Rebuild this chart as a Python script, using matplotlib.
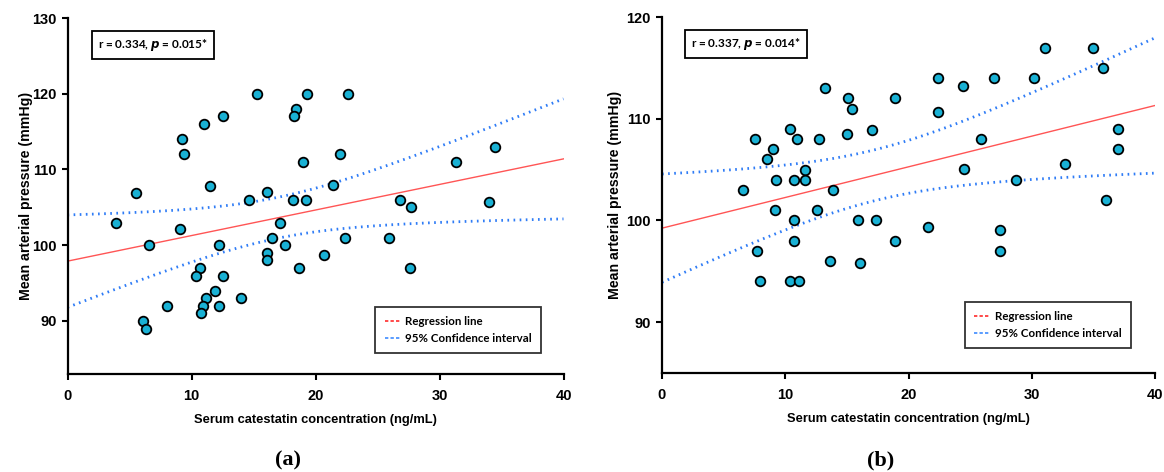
import numpy as np
import matplotlib
matplotlib.use("Agg")
import matplotlib.pyplot as plt
from matplotlib import font_manager
from matplotlib.lines import Line2D

# ---------------- data ----------------
xa = [3.94, 5.5, 9.26, 9.37, 11.0, 12.5, 11.5, 15.3, 19.3, 18.4, 18.3, 19.0, 14.6, 16.1,
      18.2, 19.2, 9.1, 17.1, 16.5, 22.6, 22.0, 34.5, 31.3, 21.4, 26.8, 27.7, 34.0, 22.4,
      25.95, 6.6, 12.2, 17.5, 16.1, 16.1, 18.7, 10.66, 10.4, 12.5, 11.9, 11.2, 14.0, 8.0,
      10.95, 12.2, 10.8, 6.1, 6.3, 20.7, 27.6]
ya = [103.0, 106.9, 114.0, 112.0, 116.0, 117.0, 107.8, 120.0, 120.0, 118.0, 117.0, 111.0,
      106.0, 107.0, 106.0, 106.0, 102.1, 103.0, 101.0, 120.0, 112.0, 113.0, 111.0, 108.0,
      106.0, 105.0, 105.7, 101.0, 101.0, 100.0, 100.0, 100.0, 99.0, 98.0, 97.0, 97.0, 96.0,
      96.0, 94.0, 93.0, 93.0, 92.0, 92.0, 92.0, 91.0, 90.0, 89.0, 98.7, 97.0]

xb = [13.2, 15.07, 15.44, 18.9, 10.35, 7.57, 10.97, 12.7, 15.04, 17.0, 8.97, 8.54, 11.6,
      9.27, 10.7, 11.6, 6.6, 13.9, 9.16, 12.55, 10.7, 15.9, 17.4, 10.7, 18.9, 31.1, 35.0,
      35.8, 22.4, 24.4, 26.9, 30.2, 22.4, 25.9, 37.0, 37.0, 32.7, 24.5, 28.7, 36.0, 21.6,
      27.4, 7.7, 13.6, 16.1, 7.94, 10.4, 11.1, 27.4]
yb = [113.0, 112.0, 111.0, 112.0, 109.0, 108.0, 108.0, 108.0, 108.5, 108.9, 107.0, 106.0,
      105.0, 104.0, 104.0, 104.0, 103.0, 103.0, 101.0, 101.0, 100.0, 100.0, 100.0, 98.0,
      98.0, 117.0, 117.0, 115.0, 114.0, 113.2, 114.0, 114.0, 110.7, 108.0, 109.0, 107.0,
      105.5, 105.1, 104.0, 102.0, 99.4, 99.05, 97.0, 96.0, 95.8, 94.0, 94.0, 94.0, 97.0]

# regression line and 95% CI limits read at x = 0 and x = 40, plus narrowest CI half-width
line_ends_a = [97.9, 111.4]
ci_upper_ends_a = [104.0, 119.25]
ci_lower_ends_a = [91.8, 103.4]
ci_min_half_a = 2.7

line_ends_b = [99.24, 111.3]
ci_upper_ends_b = [104.55, 117.9]
ci_lower_ends_b = [93.9, 104.6]
ci_min_half_b = 2.5

stats_a = "r = 0.334, $\\boldsymbol{p}$ = 0.015*"
stats_b = "r = 0.337, $\\boldsymbol{p}$ = 0.014*"
xlabel = "Serum catestatin concentration (ng/mL)"
ylabel = "Mean arterial pressure (mmHg)"
legend_labels = ["Regression line", "95% Confidence interval"]
panel_labels = ["(a)", "(b)"]
xticks = [0, 10, 20, 30, 40]
yticks_a = [90, 100, 110, 120, 130]
yticks_b = [90, 100, 110, 120]
X_END = 40.0

# ---------------- fonts ----------------
names = {f.name for f in font_manager.fontManager.ttflist}
SANS = "Liberation Sans" if "Liberation Sans" in names else "DejaVu Sans"
NARROW = "Liberation Sans Narrow" if "Liberation Sans Narrow" in names else SANS
SERIF = "Liberation Serif" if "Liberation Serif" in names else "DejaVu Serif"
CAL = "Lato" if "Lato" in names else SANS
plt.rcParams["mathtext.fontset"] = "custom"
plt.rcParams["mathtext.bf"] = f"{CAL}:bold:italic"

MARKER = "#19b1d4"
RED = "#ff5555"
BLUE = "#2f7cf6"


def reg_curves(line_ends, up_ends, lo_ends, hmin):
    """Regression line and hyperbolic CI band through the values read at x=0 and x=40."""
    b0 = line_ends[0]
    slope = (line_ends[1] - line_ends[0]) / X_END
    h0 = (up_ends[0] - lo_ends[0]) / 2.0
    h40 = (up_ends[1] - lo_ends[1]) / 2.0
    A = h0 ** 2 - hmin ** 2
    B = h40 ** 2 - hmin ** 2
    r = np.sqrt(A / B)
    xc = X_END * r / (1 + r)
    k = A / xc ** 2
    xs = np.linspace(0, X_END, 300)
    yh = b0 + slope * xs
    h = np.sqrt(hmin ** 2 + k * (xs - xc) ** 2)
    return xs, yh, yh - h, yh + h


fig = plt.figure(figsize=(11.64, 4.72), dpi=100)
ax_a = fig.add_axes([67.5 / 1164, 1 - 374 / 472, 496 / 1164, 356 / 472])
ax_b = fig.add_axes([662 / 1164, 1 - 373 / 472, 493 / 1164, 356 / 472])

panels = [
    (ax_a, xa, ya, (83, 130), yticks_a, stats_a, (0.955, 0.058), 0.172,
     (line_ends_a, ci_upper_ends_a, ci_lower_ends_a, ci_min_half_a)),
    (ax_b, xb, yb, (85, 120), yticks_b, stats_b, (0.951, 0.070), 0.170,
     (line_ends_b, ci_upper_ends_b, ci_lower_ends_b, ci_min_half_b)),
]

for ax, x, y, ylim, yt, stxt, legpos, stx, reg in panels:
    xs, yh, lo, hi = reg_curves(*reg)
    ax.plot(xs, yh, color=RED, lw=1.0, zorder=2)
    ax.plot(xs, lo, color=BLUE, lw=2.0, ls=(0, (0.6, 1.6)), zorder=2)
    ax.plot(xs, hi, color=BLUE, lw=2.0, ls=(0, (0.6, 1.6)), zorder=2)
    ax.scatter(x, y, s=48, c=MARKER, edgecolors="black", linewidths=1.3, zorder=3)

    ax.set_xlim(0, 40)
    ax.set_ylim(*ylim)
    ax.set_xticks(xticks)
    ax.set_yticks(yt)
    for sp in ("top", "right"):
        ax.spines[sp].set_visible(False)
    for sp in ("left", "bottom"):
        ax.spines[sp].set_linewidth(1.6)
        ax.spines[sp].set_color("black")
    ax.tick_params(axis="both", direction="out", length=4.5, width=1.5, colors="black")
    ax.tick_params(axis="y", pad=3.5)
    ax.tick_params(axis="x", pad=6)
    for lab in ax.get_xticklabels() + ax.get_yticklabels():
        lab.set_fontfamily(NARROW)
        lab.set_fontweight("bold")
        lab.set_fontsize(10.5)

    ax.set_xlabel(xlabel, fontfamily=SANS, fontweight="bold", fontsize=9.3, labelpad=8)
    ax.set_ylabel(ylabel, fontfamily=SANS, fontweight="bold", fontsize=10.2)

    ax.text(stx, 0.925, stxt, transform=ax.transAxes,
            ha="center", va="center", fontfamily=CAL, fontweight="bold", fontsize=8.5,
            bbox=dict(boxstyle="square,pad=0.5", fc="white", ec="black", lw=1.3))

    handles = [Line2D([], [], color="#ff2a2a", lw=1.2, ls=(0, (2, 1.3))),
               Line2D([], [], color="#3d8bff", lw=1.2, ls=(0, (2, 1.3)))]
    leg = ax.legend(handles, legend_labels, loc="lower right", bbox_to_anchor=legpos,
                    frameon=True, fancybox=False, borderaxespad=0,
                    prop=dict(family=CAL, weight="bold", size=8.3),
                    handlelength=1.3, handletextpad=0.5, borderpad=0.8,
                    labelspacing=0.5)
    leg.get_frame().set_edgecolor("black")
    leg.get_frame().set_linewidth(1.3)

fig.canvas.draw()
# y labels: right edge of the rotated text at the measured pixel column
for ax, px in ((ax_a, 33), (ax_b, 622)):
    inv = ax.transAxes.inverted()
    xa_ax = inv.transform((px, 0))[0]
    ax.yaxis.set_label_coords(xa_ax, 0.5)

fig.text(288 / 1164, 1 - 460 / 472, panel_labels[0], ha="center", va="center",
         fontfamily=SERIF, fontweight="bold", fontsize=16)
fig.text(881 / 1164, 1 - 460 / 472, panel_labels[1], ha="center", va="center",
         fontfamily=SERIF, fontweight="bold", fontsize=16)

fig.savefig("out.png", dpi=100)
